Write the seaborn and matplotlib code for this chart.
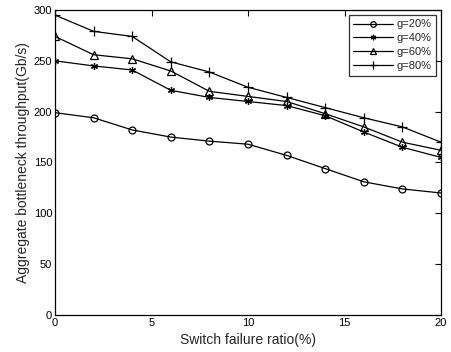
import matplotlib
matplotlib.use("Agg")
import matplotlib.pyplot as plt
import seaborn as sns
import pandas as pd

failure_ratio = [0, 2, 4, 6, 8, 10, 12, 14, 16, 18, 20]
g20 = [199, 194, 182, 175, 171, 168, 157, 144, 131, 124, 120]
g40 = [250, 245, 241, 221, 214, 210, 206, 196, 180, 165, 155]
g60 = [274, 256, 252, 240, 220, 215, 210, 198, 185, 170, 162]
g80 = [295, 279, 274, 249, 239, 224, 214, 204, 194, 185, 170]
series_names = ["g=20%", "g=40%", "g=60%", "g=80%"]
x_ticks = [0, 5, 10, 15, 20]
y_ticks = [0, 50, 100, 150, 200, 250, 300]

sns.set_theme(style="white")
plt.rcParams['font.family'] = ['Liberation Sans', 'DejaVu Sans']

df = pd.DataFrame({
    "x": failure_ratio * 4,
    "y": g20 + g40 + g60 + g80,
    "series": sum([[n] * len(failure_ratio) for n in series_names], []),
})

fig = plt.figure(figsize=(4.51, 3.52), dpi=100)
ax = fig.add_axes([55/451, 1-315/352, (441-55)/451, (315-10)/352])

markers = {"g=20%": "o", "g=40%": (6, 2, 0), "g=60%": "^", "g=80%": "+"}
msizes = {"g=20%": 5, "g=40%": 5, "g=60%": 6, "g=80%": 7}
for name in series_names:
    sub = df[df["series"] == name]
    sns.lineplot(data=sub, x="x", y="y", ax=ax, color="black", lw=0.9,
                 marker=markers[name], markersize=msizes[name],
                 markerfacecolor="none", markeredgecolor="black",
                 markeredgewidth=0.9, label=name)

ax.set_xlim(0, 20)
ax.set_ylim(0, 300)
ax.set_xticks(x_ticks)
ax.set_yticks(y_ticks)
ax.tick_params(direction="in", length=4, width=0.8, top=True, right=True,
               labelsize=8, pad=2, colors="black")
for s in ax.spines.values():
    s.set_color("black")
    s.set_linewidth(0.9)
ax.set_xlabel("Switch failure ratio(%)", fontsize=10, labelpad=4)
ax.set_ylabel("Aggregate bottleneck throughput(Gb/s)", fontsize=10, labelpad=3)

leg = ax.legend(loc="upper right", fontsize=8, frameon=True, fancybox=False,
                edgecolor="black", handlelength=3.6, handletextpad=0.3,
                borderpad=0.4, labelspacing=0.35, borderaxespad=0.45,
                markerscale=0.8)
leg.get_frame().set_linewidth(0.9)

fig.savefig("out.png", dpi=100)
